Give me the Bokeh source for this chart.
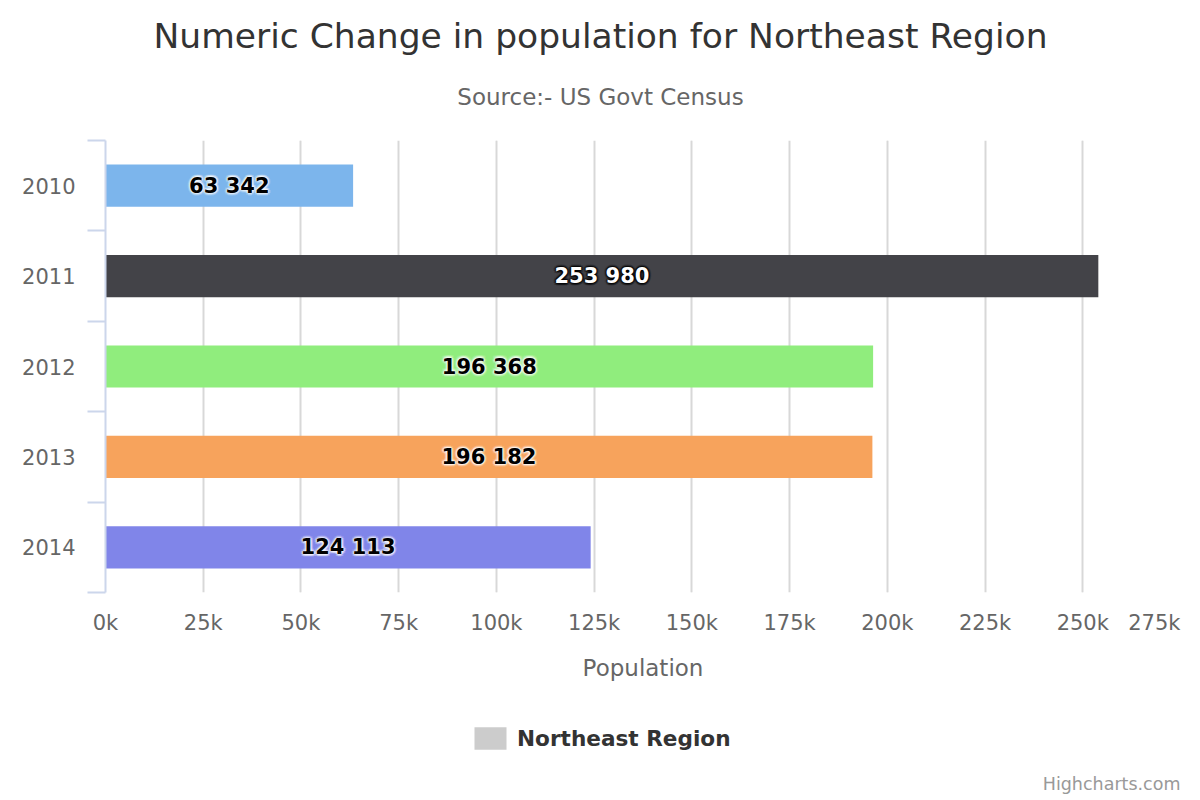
from bokeh.plotting import figure
from bokeh.layouts import column
from bokeh.models import (Range1d, FixedTicker, Grid, Label, Legend, LegendItem, ColumnDataSource)
from bokeh.core.properties import value
from bokeh.embed import file_html
from bokeh.resources import INLINE

# ---- data ----
years = ["2010", "2011", "2012", "2013", "2014"]
values = [63342, 253980, 196368, 196182, 124113]
bar_colors = ["#7cb5ec", "#434348", "#90ed7d", "#f7a35c", "#8085e9"]
label_colors = ["#000000", "#ffffff", "#000000", "#000000", "#000000"]
glow_colors = ["#ffffff", "#000000", "#ffffff", "#ffffff", "#ffffff"]
x_ticks = [0, 25000, 50000, 75000, 100000, 125000, 150000, 175000, 200000, 225000, 250000, 275000]
x_tick_labels = ["0k", "25k", "50k", "75k", "100k", "125k", "150k", "175k", "200k", "225k", "250k", "275k"]
title_text = "Numeric Change in population for Northeast Region"
subtitle_text = "Source:- US Govt Census"
series_name = "Northeast Region"
x_title = "Population"
credit_text = "Highcharts.com"

FONT = "DejaVu Sans"
W, H = 1200, 800
FL, FR, FT, FB = 105, 1180, 140, 592  # plot area edges in page px
XMIN, XMAX = x_ticks[0], x_ticks[-1]
TOP_H = FT - 5          # title strip
MID_H = FB + 3 - TOP_H  # chart strip
BOT_H = H - TOP_H - MID_H
strip_top = TOP_H + MID_H

centers = [i + 0.5 for i in range(len(years))]
bounds = [float(i) for i in range(len(years) + 1)]

# ---------- title strip ----------
top = figure(width=W, height=TOP_H, output_backend="svg", toolbar_location=None,
             x_axis_type=None, y_axis_type=None, min_border=0, title_location=None,
             x_range=Range1d(0, W), y_range=Range1d(0, TOP_H), frame_align=False)
top.outline_line_color = None
top.add_layout(Label(x=600, y=TOP_H - 35, x_units="screen", y_units="screen",
                     text=title_text, text_font=FONT, text_font_size="34.5px",
                     text_color="#333333", text_align="center", text_baseline="middle"))
top.add_layout(Label(x=600, y=TOP_H - 96, x_units="screen", y_units="screen",
                     text=subtitle_text, text_font=FONT, text_font_size="23px",
                     text_color="#666666", text_align="center", text_baseline="middle"))

# ---------- chart strip ----------
p = figure(width=W, height=MID_H, output_backend="svg", toolbar_location=None,
           x_range=Range1d(XMIN, XMAX), y_range=Range1d(len(years), 0),
           min_border_left=FL, min_border_right=W - FR,
           min_border_top=FT - TOP_H, min_border_bottom=3,
           x_axis_location=None, title_location=None, frame_align=False)
p.outline_line_color = None
p.ygrid.grid_line_color = None
p.add_layout(Grid(dimension=0, ticker=FixedTicker(ticks=x_ticks),
                  grid_line_color="#d8d8d8", grid_line_width=2))

src = ColumnDataSource(dict(
    y=centers, right=values, color=bar_colors,
    mid=[v / 2 for v in values],
    txt=[f"{v:,}".replace(",", " ") for v in values],
    tcol=label_colors, gcol=glow_colors,
))
p.hbar(y="y", left=0, right="right", height=0.467, fill_color="color",
       line_color=None, source=src)

rings = [(3.0, 0.12), (2.0, 0.2), (1.0, 0.3)]
dirs = [(1, 0), (-1, 0), (0, 1), (0, -1), (0.7, 0.7), (-0.7, 0.7), (0.7, -0.7), (-0.7, -0.7)]
for r, a in rings:
    for ux, uy in dirs:
        p.text(x="mid", y="y", text="txt", source=src, text_color="gcol", text_alpha=a,
               text_align="center", text_baseline="middle", text_font_size="21px",
               text_font_style="bold", text_font=value(FONT), x_offset=ux * r, y_offset=uy * r)
p.text(x="mid", y="y", text="txt", source=src, text_color="tcol",
       text_align="center", text_baseline="middle", text_font_size="21px",
       text_font_style="bold", text_font=value(FONT))

p.yaxis.ticker = FixedTicker(ticks=centers, minor_ticks=bounds)
p.yaxis.major_label_overrides = {c: y for c, y in zip(centers, years)}
p.yaxis.axis_line_color = "#ccd6eb"
p.yaxis.axis_line_width = 2
p.yaxis.major_tick_line_color = None
p.yaxis.major_tick_out = 0
p.yaxis.major_tick_in = 0
p.yaxis.minor_tick_line_color = "#ccd6eb"
p.yaxis.minor_tick_line_width = 2
p.yaxis.minor_tick_out = 18
p.yaxis.minor_tick_in = 0
p.yaxis.major_label_text_font = FONT
p.yaxis.major_label_text_font_size = "21px"
p.yaxis.major_label_text_color = "#666666"
p.yaxis.major_label_standoff = 12

# ---------- value-axis labels, legend, credit strip ----------
k = (XMAX - XMIN) / (FR - FL)
bot = figure(width=W, height=BOT_H, output_backend="svg", toolbar_location=None,
             x_axis_type=None, y_axis_type=None, min_border=0, title_location=None,
             x_range=Range1d(XMIN - FL * k, XMAX + (W - FR) * k),
             y_range=Range1d(BOT_H, 0), frame_align=False)
bot.outline_line_color = None
tsrc = ColumnDataSource(dict(x=x_ticks[:-1], y=[622 - strip_top] * (len(x_ticks) - 1),
                             t=x_tick_labels[:-1]))
bot.text(x="x", y="y", text="t", source=tsrc, text_font=value(FONT), text_font_size="21px",
         text_color="#666666", text_align="center", text_baseline="middle")
bot.text(x=[x_ticks[-1]], y=[622 - strip_top], text=[x_tick_labels[-1]], text_font=value(FONT),
         text_font_size="21px", text_color="#666666", text_align="right", text_baseline="middle")
bot.text(x=[(XMIN + XMAX) / 2], y=[667 - strip_top], text=[x_title], text_font=value(FONT),
         text_font_size="23px", text_color="#666666", text_align="center", text_baseline="middle")
bot.text(x=[XMAX], y=[783 - strip_top], text=[credit_text], text_font=value(FONT),
         text_font_size="17.5px", text_color="#999999", text_align="right", text_baseline="middle")

# legend swatch source: a zero-length bar (invisible) so the legend has a glyph to draw
dummy = bot.hbar(y=[0], left=[0], right=[0], height=1, fill_color="#cccccc", line_color=None)
leg = Legend(items=[LegendItem(label=series_name, renderers=[dummy])],
             location=(470, H - 752), orientation="horizontal",
             glyph_width=40, glyph_height=28, label_standoff=7,
             label_text_font=FONT, label_text_font_size="21.6px",
             label_text_font_style="bold", label_text_color="#333333",
             border_line_color=None, background_fill_alpha=0,
             padding=0, margin=0, spacing=0, label_height=28)
bot.add_layout(leg, "center")

layout = column(top, p, bot, spacing=0)
open("out.html", "w").write(file_html(layout, INLINE))
